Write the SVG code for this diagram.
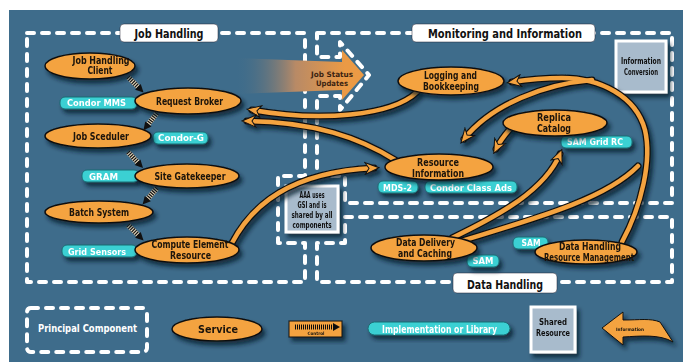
<svg xmlns="http://www.w3.org/2000/svg" width="683" height="362" viewBox="0 0 683 362">
<defs>
<style>
.box{fill:none;stroke:#fff;stroke-width:4;stroke-dasharray:7 8;stroke-linecap:round;stroke-linejoin:round}
.svc{fill:#f4a340;stroke:#111;stroke-width:1.5}
.nt{font-family:"DejaVu Sans Condensed","DejaVu Sans",sans-serif;font-stretch:condensed;font-weight:bold;font-size:10px;fill:#1a120a;text-anchor:middle}
.tag{fill:#3ad0d3;stroke:#1d6c74;stroke-width:1}
.tt{font-family:"DejaVu Sans","Liberation Sans",sans-serif;font-weight:bold;font-size:8px;fill:#fff;text-anchor:middle}
.ttl{fill:#fff;stroke:#223;stroke-width:0.5}
.tl{font-family:"DejaVu Sans Condensed","DejaVu Sans",sans-serif;font-stretch:condensed;font-weight:bold;font-size:12px;fill:#111;text-anchor:middle}
.shr{fill:#a8bbcc;stroke:#fff;stroke-width:3}
.st{font-family:"DejaVu Sans Condensed","DejaVu Sans",sans-serif;font-stretch:condensed;font-weight:bold;font-size:8.5px;fill:#111;text-anchor:middle}
.cb{fill:none;stroke:#111;stroke-width:7;stroke-linecap:round}
.co{fill:none;stroke:#f4a340;stroke-width:4.5;stroke-linecap:round}
.lt{font-family:"DejaVu Sans Condensed","DejaVu Sans",sans-serif;font-stretch:condensed;font-weight:bold;font-size:11px;text-anchor:middle}
</style>
<filter id="sh" x="-20%" y="-30%" width="150%" height="180%">
<feGaussianBlur in="SourceAlpha" stdDeviation="2"/>
<feOffset dx="3" dy="4" result="b"/>
<feFlood flood-color="#0a1a28" flood-opacity="0.75"/>
<feComposite in2="b" operator="in"/>
<feMerge><feMergeNode/><feMergeNode in="SourceGraphic"/></feMerge>
</filter>
<marker id="ah" markerUnits="userSpaceOnUse" markerWidth="16" markerHeight="14" viewBox="0 0 16 14" refX="10" refY="7" orient="auto">
<path d="M1,1 L15,7 L1,13 L5,7 Z" fill="#f4a340" stroke="#111" stroke-width="1"/>
</marker>
<g id="ctl">
<line x1="0" y1="0" x2="15" y2="0" stroke="#e9dcc0" stroke-width="5"/>
<line x1="0" y1="0" x2="15" y2="0" stroke="#111" stroke-width="5" stroke-dasharray="1.2 1.1"/>
<path d="M14,-4 L22,0 L14,4 Z" fill="#111"/>
</g>
<linearGradient id="jsg" x1="235" y1="0" x2="345" y2="0" gradientUnits="userSpaceOnUse">
<stop offset="0" stop-color="#3e6c8b" stop-opacity="0"/>
<stop offset="0.55" stop-color="#b88a66"/>
<stop offset="1" stop-color="#eb9a45"/>
</linearGradient>
</defs>

<rect width="683" height="362" fill="#fff"/>
<rect x="9" y="10" width="674" height="352" fill="#3e6c8b"/>

<g id="principal-components">
<path class="box" d="M27,33 H305 V176 H278 V243 H305 V282 H27 Z"/>
<path class="box" d="M317,33 H672 V203 H345 V176 H317 V96 H340 V110 L369,75 L340,42 V57 H317 Z"/>
<path class="box" d="M345,217 H672 V282 H317 V243 H345 Z"/>
<rect class="ttl" x="120" y="24" width="98" height="18" rx="4"/>
<text class="tl" x="169" y="38" textLength="69" lengthAdjust="spacingAndGlyphs">Job Handling</text>
<rect class="ttl" x="412" y="24" width="183" height="18" rx="4"/>
<text class="tl" x="505" y="38" textLength="154" lengthAdjust="spacingAndGlyphs">Monitoring and Information</text>
<rect class="ttl" x="453" y="273" width="104" height="20" rx="4"/>
<text class="tl" x="505" y="289" style="font-size:13px" textLength="76" lengthAdjust="spacingAndGlyphs">Data Handling</text>
</g>

<g id="job-status-updates">
<path d="M235,58 L342,62 L342,50 L364,75 L342,100 L342,90 L235,94 Z" fill="url(#jsg)"/>
<text class="tt" x="332" y="77" style="fill:#3b2412;font-size:7.5px" textLength="42" lengthAdjust="spacingAndGlyphs">Job Status</text>
<text class="tt" x="332" y="86" style="fill:#3b2412;font-size:7.5px" textLength="32" lengthAdjust="spacingAndGlyphs">Updates</text>
</g>

<g id="shared-aaa" filter="url(#sh)">
<rect class="shr" x="286" y="186" width="52" height="46"/>
<text class="st" x="312" y="198" textLength="25" lengthAdjust="spacingAndGlyphs">AAA uses</text>
<text class="st" x="312" y="208" textLength="29" lengthAdjust="spacingAndGlyphs">GSI and is</text>
<text class="st" x="312" y="218" textLength="41" lengthAdjust="spacingAndGlyphs">shared by all</text>
<text class="st" x="312" y="228" textLength="39" lengthAdjust="spacingAndGlyphs">components</text>
</g>

<g id="shared-info-conversion" filter="url(#sh)">
<rect class="shr" x="616" y="41" width="50" height="51"/>
<text class="st" x="641" y="64" textLength="40" lengthAdjust="spacingAndGlyphs">Information</text>
<text class="st" x="641" y="75" textLength="34" lengthAdjust="spacingAndGlyphs">Conversion</text>
</g>

<g id="connectors">
<g filter="url(#sh)">
<path class="cb" d="M417,92 C392,116 320,122 252,110"/>
<path class="co" d="M417,92 C392,116 320,122 252,110" marker-end="url(#ah)"/>
<path class="cb" d="M395,160 C360,138 315,122 247,121"/>
<path class="co" d="M395,160 C360,138 315,122 247,121" marker-end="url(#ah)"/>
<path class="cb" d="M232,243 C252,205 290,172 374,168"/>
<path class="co" d="M232,243 C252,205 290,172 374,168" marker-end="url(#ah)"/>
<path class="cb" d="M622,242 C642,205 652,160 645,130 C636,96 600,78 562,78 C540,78 525,80 512,82"/>
<path class="cb" d="M592,80 C545,84 492,104 464,139"/>
<path class="cb" d="M458,242 C530,220 605,200 638,166"/>
<path class="co" d="M622,242 C642,205 652,160 645,130 C636,96 600,78 562,78 C540,78 525,80 512,82" marker-end="url(#ah)"/>
<path class="co" d="M592,80 C545,84 492,104 464,139" marker-end="url(#ah)"/>
<path class="co" d="M458,242 C530,220 605,200 638,166"/>
<path class="cb" d="M510,129 C503,137 499,143 496,149"/>
<path class="co" d="M510,129 C503,137 499,143 496,149" marker-end="url(#ah)"/>
<path class="cb" d="M452,238 C500,215 545,190 560,154"/>
<path class="co" d="M452,238 C500,215 545,190 560,154" marker-end="url(#ah)"/>
</g>
<use href="#ctl" transform="translate(128,77) rotate(45)"/>
<use href="#ctl" transform="translate(157,113) rotate(128)"/>
<use href="#ctl" transform="translate(128,152) rotate(47)"/>
<use href="#ctl" transform="translate(157,188) rotate(131)"/>
<use href="#ctl" transform="translate(128,225) rotate(45)"/>
</g>

<g id="tags" filter="url(#sh)">
<rect class="tag" x="60" y="97" width="77" height="12" rx="5"/>
<text class="tt" x="96.5" y="106" textLength="59" lengthAdjust="spacingAndGlyphs">Condor MMS</text>
<rect class="tag" x="153" y="132" width="55" height="12" rx="5"/>
<text class="tt" x="181" y="141" textLength="46" lengthAdjust="spacingAndGlyphs">Condor-G</text>
<rect class="tag" x="82" y="170" width="57" height="12" rx="5"/>
<text class="tt" x="103.5" y="179.5" textLength="29" lengthAdjust="spacingAndGlyphs">GRAM</text>
<rect class="tag" x="62" y="245" width="75" height="12" rx="5"/>
<text class="tt" x="97" y="254.5" textLength="58" lengthAdjust="spacingAndGlyphs">Grid Sensors</text>
<rect class="tag" x="561" y="136" width="71" height="12" rx="5"/>
<text class="tt" x="595" y="145" textLength="56" lengthAdjust="spacingAndGlyphs">SAM Grid RC</text>
<rect class="tag" x="378" y="181" width="40" height="12" rx="5"/>
<text class="tt" x="397.5" y="190.5" textLength="29" lengthAdjust="spacingAndGlyphs">MDS-2</text>
<rect class="tag" x="425" y="181" width="92" height="12" rx="5"/>
<text class="tt" x="471" y="190.5" textLength="82" lengthAdjust="spacingAndGlyphs">Condor Class Ads</text>
<rect class="tag" x="513" y="237" width="35" height="12" rx="5"/>
<text class="tt" x="531" y="246" textLength="19" lengthAdjust="spacingAndGlyphs">SAM</text>
<rect class="tag" x="467" y="255" width="32" height="12" rx="5"/>
<text class="tt" x="483" y="264" textLength="21" lengthAdjust="spacingAndGlyphs">SAM</text>
</g>

<g id="n-job-handling-client" filter="url(#sh)">
<ellipse class="svc" cx="90" cy="66" rx="45" ry="13"/>
<text class="nt" x="101" y="64" textLength="57" lengthAdjust="spacingAndGlyphs">Job Handling</text>
<text class="nt" x="100" y="74" textLength="25" lengthAdjust="spacingAndGlyphs">Client</text>
</g>
<g id="n-request-broker" filter="url(#sh)">
<ellipse class="svc" cx="188" cy="101" rx="53" ry="13"/>
<text class="nt" x="189.5" y="105" textLength="67" lengthAdjust="spacingAndGlyphs">Request Broker</text>
</g>
<g id="n-job-sceduler" filter="url(#sh)">
<ellipse class="svc" cx="98" cy="136" rx="53" ry="12"/>
<text class="nt" x="101" y="140" textLength="56" lengthAdjust="spacingAndGlyphs">Job Sceduler</text>
</g>
<g id="n-site-gatekeeper" filter="url(#sh)">
<ellipse class="svc" cx="187" cy="176" rx="52" ry="12"/>
<text class="nt" x="190" y="180" textLength="71" lengthAdjust="spacingAndGlyphs">Site Gatekeeper</text>
</g>
<g id="n-batch-system" filter="url(#sh)">
<ellipse class="svc" cx="99" cy="212" rx="54" ry="11"/>
<text class="nt" x="99" y="216" textLength="60" lengthAdjust="spacingAndGlyphs">Batch System</text>
</g>
<g id="n-compute-element" filter="url(#sh)">
<ellipse class="svc" cx="187" cy="250" rx="52" ry="13"/>
<text class="nt" x="190" y="248" textLength="77" lengthAdjust="spacingAndGlyphs">Compute Element</text>
<text class="nt" x="190.5" y="259" textLength="41" lengthAdjust="spacingAndGlyphs">Resource</text>
</g>
<g id="n-logging" filter="url(#sh)">
<ellipse class="svc" cx="451" cy="81" rx="53" ry="14"/>
<text class="nt" x="450.5" y="79" textLength="53" lengthAdjust="spacingAndGlyphs">Logging and</text>
<text class="nt" x="451" y="90" textLength="56" lengthAdjust="spacingAndGlyphs">Bookkeeping</text>
</g>
<g id="n-replica-catalog" filter="url(#sh)">
<ellipse class="svc" cx="555" cy="123" rx="52" ry="13"/>
<text class="nt" x="554" y="121" textLength="34" lengthAdjust="spacingAndGlyphs">Replica</text>
<text class="nt" x="554" y="132" textLength="34" lengthAdjust="spacingAndGlyphs">Catalog</text>
</g>
<g id="n-resource-information" filter="url(#sh)">
<ellipse class="svc" cx="439" cy="167" rx="54" ry="13"/>
<text class="nt" x="438" y="166" textLength="42" lengthAdjust="spacingAndGlyphs">Resource</text>
<text class="nt" x="438" y="177" textLength="52" lengthAdjust="spacingAndGlyphs">Information</text>
</g>
<g id="n-data-delivery" filter="url(#sh)">
<ellipse class="svc" cx="424" cy="248" rx="53" ry="13"/>
<text class="nt" x="425.5" y="246" textLength="59" lengthAdjust="spacingAndGlyphs">Data Delivery</text>
<text class="nt" x="425" y="257" textLength="54" lengthAdjust="spacingAndGlyphs">and Caching</text>
</g>
<g id="n-data-handling-rm" filter="url(#sh)">
<ellipse class="svc" cx="586" cy="252" rx="51" ry="12"/>
<text class="nt" x="590" y="250" textLength="62" lengthAdjust="spacingAndGlyphs">Data Handling</text>
<text class="nt" x="589" y="261" textLength="90" lengthAdjust="spacingAndGlyphs">Resource Management</text>
</g>

<g id="legend">
<rect class="box" x="27" y="308" width="120" height="44" rx="4"/>
<text class="lt" x="87.5" y="332" fill="#fff" textLength="99" lengthAdjust="spacingAndGlyphs">Principal Component</text>
<g filter="url(#sh)">
<ellipse class="svc" cx="217" cy="329" rx="45" ry="12"/>
<text class="lt" x="218" y="333" fill="#1a120a" textLength="40" lengthAdjust="spacingAndGlyphs">Service</text>
</g>
<g filter="url(#sh)">
<rect x="289" y="321" width="53" height="16" fill="#f4a340" stroke="#111" stroke-width="1"/>
<line x1="295" y1="327" x2="333" y2="327" stroke="#111" stroke-width="5" stroke-dasharray="1 1"/>
<path d="M333,323 L340,327 L333,331 Z" fill="#111"/>
<text class="st" x="316" y="335" style="font-size:4.5px" textLength="17" lengthAdjust="spacingAndGlyphs">Control</text>
</g>
<g filter="url(#sh)">
<rect class="tag" x="368" y="322" width="142" height="13" rx="6.5"/>
<text class="lt" x="439.5" y="332.5" fill="#fff" textLength="115" lengthAdjust="spacingAndGlyphs">Implementation or Library</text>
</g>
<g filter="url(#sh)">
<rect class="shr" x="531" y="307" width="44" height="45"/>
<text class="st" x="553" y="325" style="font-size:9px" textLength="28" lengthAdjust="spacingAndGlyphs">Shared</text>
<text class="st" x="553" y="336" style="font-size:9px" textLength="34" lengthAdjust="spacingAndGlyphs">Resource</text>
</g>
<g filter="url(#sh)">
<path d="M602,328 L623,312 L623,320 C640,320 650,318 660,322 L673,342 C660,334 640,336 623,337 L623,345 Z" fill="#f4a340" stroke="#111" stroke-width="1"/>
<text class="st" x="630" y="331" style="font-size:4.5px" textLength="28" lengthAdjust="spacingAndGlyphs">Information</text>
</g>
</g>
</svg>
